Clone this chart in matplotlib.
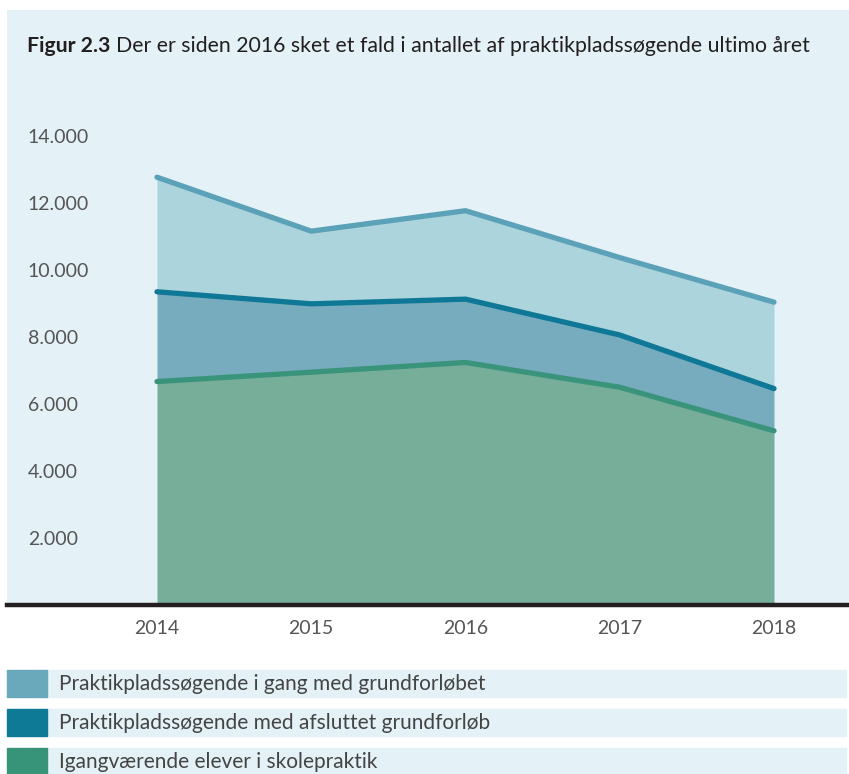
import numpy as np
import matplotlib.pyplot as plt
from matplotlib.patches import Rectangle

plt.rcParams['font.family'] = ['Lato', 'DejaVu Sans']

# data (antal)
years = [2014, 2015, 2016, 2017, 2018]
skolepraktik = [6670, 6950, 7240, 6500, 5200]
afsluttet = [2680, 2040, 1890, 1560, 1260]
i_gang = [3420, 2170, 2640, 2310, 2580]

labels = ["Praktikpladssøgende i gang med grundforløbet",
          "Praktikpladssøgende med afsluttet grundforløb",
          "Igangværende elever i skolepraktik"]
yticks = [2000, 4000, 6000, 8000, 10000, 12000, 14000]

bg = "#E4F1F7"
fill_cols = ["#77AE9A", "#77ACBF", "#ABD4DC"]
line_cols = ["#3A947C", "#0E7896", "#5BA1B7"]
legend_cols = ["#6AA9BC", "#0E7A96", "#389479"]

W, H = 849, 774
fig = plt.figure(figsize=(W / 100, H / 100), dpi=100)
fig.patch.set_facecolor("white")

ax = fig.add_axes([7 / W, (H - 605) / H, 842 / W, 595 / H])
ax.set_facecolor(bg)

# stablede arealer
series = [skolepraktik, afsluttet, i_gang]
stack = np.cumsum(np.array(series), axis=0)
lower = np.zeros(len(years))
for i in range(3):
    ax.fill_between(years, lower, stack[i], color=fill_cols[i], lw=0, zorder=2)
    lower = stack[i]
for i in range(3):
    ax.plot(years, stack[i], color=line_cols[i], lw=3.8, solid_capstyle="round",
            solid_joinstyle="round", zorder=3)

ax.set_xlim(2014 - 150 / 154.25, 2018 + 75 / 154.25)
ax.set_ylim(0, 595 / 33.5 * 1000)
ax.axhline(0, color="#231F20", lw=3.2, zorder=4, clip_on=False)

for s in ax.spines.values():
    s.set_visible(False)

ax.set_yticks(yticks)
ax.set_yticklabels(["{:,}".format(v).replace(",", ".") for v in yticks])
ax.tick_params(axis="y", length=0, pad=-15, labelsize=14, labelcolor="#555555")
for t in ax.get_yticklabels():
    t.set_ha("left")
ax.set_xticks(years)
ax.set_xticklabels([str(y) for y in years])
ax.tick_params(axis="x", length=0, pad=11, labelsize=14, labelcolor="#555555")

# titel
t1 = fig.text(27 / W, 1 - 46 / H, "Figur 2.3", fontsize=15.3, fontweight="bold",
              color="#231F20", va="center", ha="left")
fig.canvas.draw()
bb = t1.get_window_extent()
fig.text((bb.x1 + 6) / W, 1 - 46 / H,
         "Der er siden 2016 sket et fald i antallet af praktikpladssøgende ultimo året",
         fontsize=15.3, color="#231F20", va="center", ha="left")

# forklaring
rows = [670, 709, 748]
for i in range(3):
    y0 = rows[i]
    fig.patches.append(Rectangle((36 / W, 1 - (y0 + 27) / H), 810 / W, 27 / H,
                                 transform=fig.transFigure, color=bg, zorder=0))
    fig.patches.append(Rectangle((7 / W, 1 - (y0 + 27) / H), 40 / W, 27 / H,
                                 transform=fig.transFigure, color=legend_cols[i], zorder=1))
    fig.text(59 / W, 1 - (y0 + 14) / H, labels[i], fontsize=15, color="#444444",
             va="center", ha="left")

fig.savefig("out.png", dpi=100, facecolor="white")
